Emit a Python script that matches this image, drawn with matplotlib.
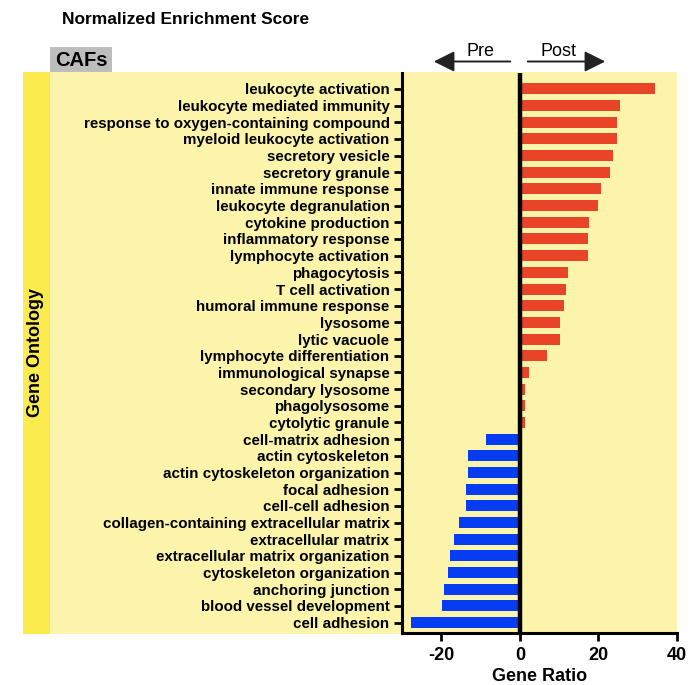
import matplotlib
matplotlib.use("Agg")
import matplotlib.pyplot as plt
from matplotlib.patches import Rectangle, FancyArrowPatch

plt.rcParams['font.family'] = ['Liberation Sans', 'DejaVu Sans']
plt.rcParams['font.weight'] = 'bold'

terms = [
    "leukocyte activation", "leukocyte mediated immunity",
    "response to oxygen-containing compound", "myeloid leukocyte activation",
    "secretory vesicle", "secretory granule", "innate immune response",
    "leukocyte degranulation", "cytokine production", "inflammatory response",
    "lymphocyte activation", "phagocytosis", "T cell activation",
    "humoral immune response", "lysosome", "lytic vacuole",
    "lymphocyte differentiation", "immunological synapse", "secondary lysosome",
    "phagolysosome", "cytolytic granule", "cell-matrix adhesion",
    "actin cytoskeleton", "actin cytoskeleton organization", "focal adhesion",
    "cell-cell adhesion", "collagen-containing extracellular matrix",
    "extracellular matrix", "extracellular matrix organization",
    "cytoskeleton organization", "anchoring junction",
    "blood vessel development", "cell adhesion",
]
gene_ratio = [
    34.4, 25.4, 24.6, 24.6, 23.8, 23.0, 20.7, 19.8, 17.7, 17.3, 17.3,
    12.2, 11.8, 11.3, 10.2, 10.2, 7.0, 2.2, 1.4, 1.4, 1.4,
    -8.5, -13.1, -13.1, -13.7, -13.8, -15.6, -16.8, -17.8, -18.4,
    -19.3, -19.7, -27.7,
]
x_ticks = [-20, 0, 20, 40]

W, H = 689, 685
fig = plt.figure(figsize=(W / 100, H / 100), dpi=100)

def fx(px):
    return px / W

def fy(py):
    return 1 - py / H

def panel(x0, y0, x1, y1, color):
    fig.patches.append(Rectangle((fx(x0), fy(y1)), fx(x1) - fx(x0), fy(y0) - fy(y1),
                                 transform=fig.transFigure, facecolor=color,
                                 edgecolor="none", zorder=-10))

# Panel backgrounds
panel(50, 72, 677, 634, "#FBF4AA")
panel(23, 72, 50, 634, "#FBEB4E")
panel(50, 47, 112, 72, "#BDBDBD")

fig.text(fx(55), fy(60), "CAFs", fontsize=14.5, fontweight="bold",
         va="center", ha="left")
fig.text(fx(62), fy(19), "Normalized Enrichment Score", fontsize=12.5,
         fontweight="bold", va="center", ha="left")
fig.text(fx(36), fy(353), "Gene Ontology", fontsize=13, fontweight="bold",
         rotation=90, va="center", ha="center")

ax = fig.add_axes([fx(402), fy(633), fx(677) - fx(402), fy(73) - fy(633)])
ax.set_facecolor("none")
ax.set_zorder(5)

ypos = list(range(len(terms)))
colors = ["#E94328" if v > 0 else "#063DF2" for v in gene_ratio]
ax.barh(ypos, gene_ratio, height=0.66, color=colors, edgecolor="none", zorder=2)
ax.axvline(0, color="black", lw=3.2, zorder=3)

ax.set_xlim(-30, 40)
ax.set_ylim(len(terms) - 1 + 0.62, -0.95)
ax.set_yticks(ypos)
ax.set_yticklabels(terms, fontsize=10.9, fontweight="bold")
ax.set_xticks(x_ticks)
ax.set_xticklabels([str(t) for t in x_ticks], fontsize=13, fontweight="bold")
ax.set_xlabel("Gene Ratio", fontsize=13, fontweight="bold", labelpad=3)

for s in ["top", "right"]:
    ax.spines[s].set_visible(False)
for s in ["left", "bottom"]:
    ax.spines[s].set_linewidth(2.2)
ax.tick_params(axis="both", direction="out", length=6, width=2, pad=4)
ax.tick_params(axis="y", pad=3)

# Direction arrows above the plot
for x0, x1 in [(513, 431), (525, 608)]:
    fig.patches.append(FancyArrowPatch((fx(x0), fy(61.5)), (fx(x1), fy(61.5)),
                                       transform=fig.transFigure,
                                       arrowstyle="-|>,head_length=0.9,head_width=0.45",
                                       mutation_scale=14, color="#222222", lw=1.4))
fig.text(fx(480), fy(51), "Pre", fontsize=13, fontweight="normal",
         ha="center", va="center")
fig.text(fx(559), fy(51), "Post", fontsize=13, fontweight="normal",
         ha="center", va="center")

fig.savefig("out.png", dpi=100)
